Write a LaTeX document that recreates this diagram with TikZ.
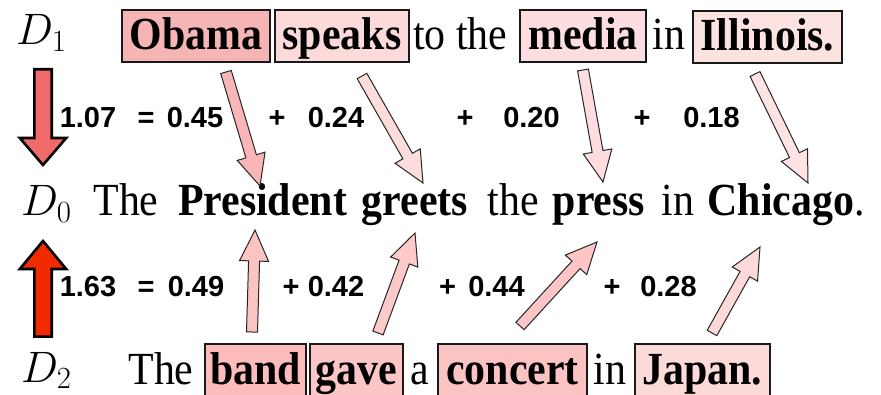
\RequirePackage{fix-cm}
\documentclass[tikz,border=0pt]{standalone}
\usepackage{fontspec}
\setmainfont{Liberation Serif}
\newfontfamily\numfont{Liberation Sans}
\usetikzlibrary{calc}
\definecolor{bigA}{HTML}{F26B6B}
\definecolor{bigB}{HTML}{F22A00}
\definecolor{cObama}{HTML}{F5B5B5}
\definecolor{cSpeaks}{HTML}{FCDADA}
\definecolor{cMedia}{HTML}{FCDEE0}
\definecolor{cIllinois}{HTML}{FDE2E2}
\definecolor{cBand}{HTML}{FDBCBC}
\definecolor{cGave}{HTML}{FCC6C6}
\definecolor{cConcert}{HTML}{FCC3C3}
\definecolor{cJapan}{HTML}{FDDADA}
\definecolor{aObama}{HTML}{F8B6B9}
\definecolor{aSpeaks}{HTML}{FDDCDC}
\definecolor{aMedia}{HTML}{FDDDE0}
\definecolor{aIllinois}{HTML}{FDE3E3}
\definecolor{aBand}{HTML}{FCC3C3}
\definecolor{aGave}{HTML}{FDC9C9}
\definecolor{aConcert}{HTML}{FDC5C5}
\definecolor{aJapan}{HTML}{FDD9D9}
\newcommand\sq[1]{\scalebox{0.91}[1]{#1}}
% #1 tail, #2 tip, #3 style, #4 shaft half width, #5 head half width, #6 head length
\newcommand\blockarrow[6]{%
  \coordinate (bah) at ($(#2)!#6!(#1)$);
  \draw[#3] ($(#1)!#4!90:(#2)$) -- ($(bah)!#4!90:(#2)$) -- ($(bah)!#5!90:(#2)$)
    -- (#2) -- ($(bah)!#5!-90:(#2)$) -- ($(bah)!#4!-90:(#2)$) -- ($(#1)!#4!-90:(#2)$) -- cycle;}
\begin{document}
\begin{tikzpicture}[x=1pt,y=-1pt,
  txt/.style={inner sep=0pt, anchor=base, font=\fontsize{46}{50}\selectfont},
  bw/.style={txt, font=\fontsize{46}{50}\selectfont\bfseries},
  wbox/.style={draw=black!90, line width=1.2pt, anchor=base, inner xsep=0pt, inner ysep=3pt,
    text height=37pt, text depth=9pt, font=\fontsize{46}{50}\selectfont\bfseries},
  dlab/.style={inner sep=0pt, anchor=base west, font=\fontsize{44}{50}\selectfont},
  num/.style={inner sep=0pt, anchor=base, font=\fontsize{29}{34}\selectfont\numfont\bfseries},
  thinarrow/.style={draw=black!85, line width=1pt, line join=miter},
  bigarrow/.style={draw=black, line width=2.6pt, line join=miter},
]
\useasboundingbox (0,0) rectangle (881,395);
% sentence D1
\node[dlab] (d1) at (16,45) {$D_1$};
\node[wbox, fill=cObama, minimum width=148pt] (obama) at (196,50) {\sq{Obama}};
\node[wbox, fill=cSpeaks, minimum width=134pt] (speaks) at (342,50) {\sq{speaks}};
\node[txt, anchor=base west] (tothe) at (413,50) {\sq{to the}};
\node[wbox, fill=cMedia, minimum width=126pt] (media) at (583,50) {\sq{media}};
\node[txt] (in1) at (669,50) {\sq{in}};
\node[wbox, fill=cIllinois, minimum width=149pt] (illinois) at (767.5,51) {\sq{Illinois.}};
% sentence D0
\node[dlab] (d0) at (21,216) {$D_0$};
\node[txt] (the0) at (126,216) {\sq{The}};
\node[bw] (president) at (262.5,216) {\sq{President}};
\node[bw] (greets) at (415,216) {\sq{greets}};
\node[txt] (the0b) at (513.5,216) {\sq{the}};
\node[bw] (press) at (599,216) {\sq{press}};
\node[txt] (in0) at (678,216) {\sq{in}};
\node[txt] (chicago) at (786,216) {\sq{\textbf{Chicago}.}};
% sentence D2
\node[dlab] (d2) at (21,382) {$D_2$};
\node[txt] (the2) at (161,384) {\sq{The}};
\node[wbox, fill=cBand, minimum width=101pt] (band) at (255.5,384) {\sq{band}};
\node[wbox, fill=cGave, minimum width=93pt] (gave) at (356.5,384) {\sq{gave}};
\node[txt] (a2) at (420,384) {\sq{a}};
\node[wbox, fill=cConcert, minimum width=149pt] (concert) at (512.5,384) {\sq{concert}};
\node[txt] (in2) at (610,384) {\sq{in}};
\node[wbox, fill=cJapan, minimum width=135pt] (japan) at (702.5,384) {\sq{Japan.}};
% numbers row 1
\node[num] (s1) at (88,128) {1.07};
\node[num] (eq1) at (146,128) {=};
\node[num] (n11) at (195,128) {0.45};
\node[num] (p11) at (277,128) {+};
\node[num] (n12) at (336,128) {0.24};
\node[num] (p12) at (465,128) {+};
\node[num] (n13) at (531.5,128) {0.20};
\node[num] (p13) at (642,128) {+};
\node[num] (n14) at (711.5,128) {0.18};
% numbers row 2
\node[num] (s2) at (88,297) {1.63};
\node[num] (eq2) at (146,297) {=};
\node[num] (n21) at (196,297) {0.49};
\node[num] (p21) at (291,297) {+};
\node[num] (n22) at (336,297) {0.42};
\node[num] (p22) at (447.5,297) {+};
\node[num] (n23) at (496.5,297) {0.44};
\node[num] (p23) at (612,297) {+};
\node[num] (n24) at (668.5,297) {0.28};
% arrow end points
\coordinate (bAt) at (43,69.3);  \coordinate (bAh) at (43,165);
\coordinate (bBt) at (43,336.7); \coordinate (bBh) at (43,241);
\coordinate (t1) at (226,72);  \coordinate (h1) at (260,186);
\coordinate (t2) at (362,76);  \coordinate (h2) at (423,183);
\coordinate (t3) at (583,70);  \coordinate (h3) at (603,182);
\coordinate (t4) at (755,74);  \coordinate (h4) at (808,183);
\coordinate (t5) at (252,332); \coordinate (h5) at (255,230);
\coordinate (t6) at (378,333); \coordinate (h6) at (415,233);
\coordinate (t7) at (520,326); \coordinate (h7) at (597,242);
\coordinate (t8) at (712,333); \coordinate (h8) at (760,247);
% big arrows
\blockarrow{bAt}{bAh}{bigarrow, fill=bigA}{8.7pt}{23.2pt}{27pt}
\blockarrow{bBt}{bBh}{bigarrow, fill=bigB}{8.7pt}{23.2pt}{28pt}
% thin arrows
\blockarrow{t1}{h1}{thinarrow, fill=aObama}{5.5pt}{14.5pt}{31pt}
\blockarrow{t2}{h2}{thinarrow, fill=aSpeaks}{5.5pt}{14.5pt}{31pt}
\blockarrow{t3}{h3}{thinarrow, fill=aMedia}{5.5pt}{14.5pt}{31pt}
\blockarrow{t4}{h4}{thinarrow, fill=aIllinois}{5.5pt}{14.5pt}{31pt}
\blockarrow{t5}{h5}{thinarrow, fill=aBand}{5.5pt}{14.5pt}{31pt}
\blockarrow{t6}{h6}{thinarrow, fill=aGave}{5.5pt}{14.5pt}{31pt}
\blockarrow{t7}{h7}{thinarrow, fill=aConcert}{5.5pt}{14.5pt}{31pt}
\blockarrow{t8}{h8}{thinarrow, fill=aJapan}{5.5pt}{14.5pt}{31pt}
\end{tikzpicture}
\end{document}
